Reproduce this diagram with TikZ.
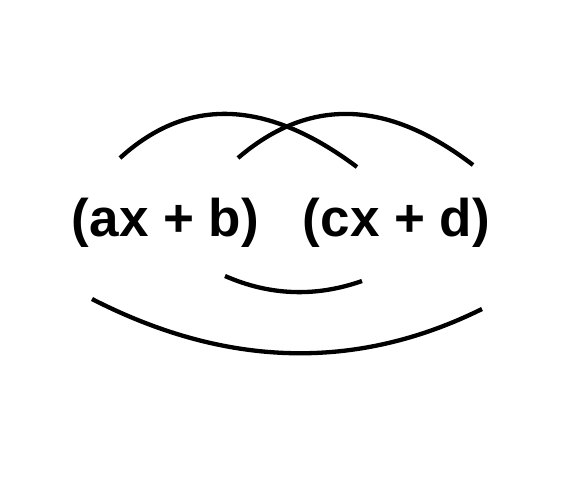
\documentclass[tikz,border=0pt]{standalone}
\usepackage{fontspec}
\setmainfont{Liberation Sans}
\usetikzlibrary{calc}

\begin{document}
\begin{tikzpicture}[x=1pt, y=-1pt, line width=4.3pt,
    binom/.style={anchor=base, inner sep=0pt, font=\fontsize{53}{62}\selectfont\bfseries}]
            \useasboundingbox (0, 0) rectangle (568, 480);
            %nodes
            \node[binom] (left) at (165.5, 236) {(ax + b)};
            \node[binom] (right) at (396.5, 236) {(cx + d)};
            
            %arc ends
            \coordinate (f1) at (120, 158);
            \coordinate (f2) at (357, 167);
            \coordinate (o1) at (238, 158);
            \coordinate (o2) at (473, 165);
            \coordinate (i1) at (225, 276);
            \coordinate (i2) at (362, 281);
            \coordinate (l1) at (92, 299);
            \coordinate (l2) at (482, 309);
            
            %edges
            \draw (f1) .. controls (187.7, 96.3) and (266.7, 99.3) .. (f2);
            \draw (o1) .. controls (309, 97) and (387.3, 99.3) .. (o2);
            \draw (i1) .. controls (270, 295.7) and (315.7, 297.3) .. (i2);
            \draw (l1) .. controls (226, 367.7) and (356, 371.3) .. (l2);
        \end{tikzpicture}
\end{document}
